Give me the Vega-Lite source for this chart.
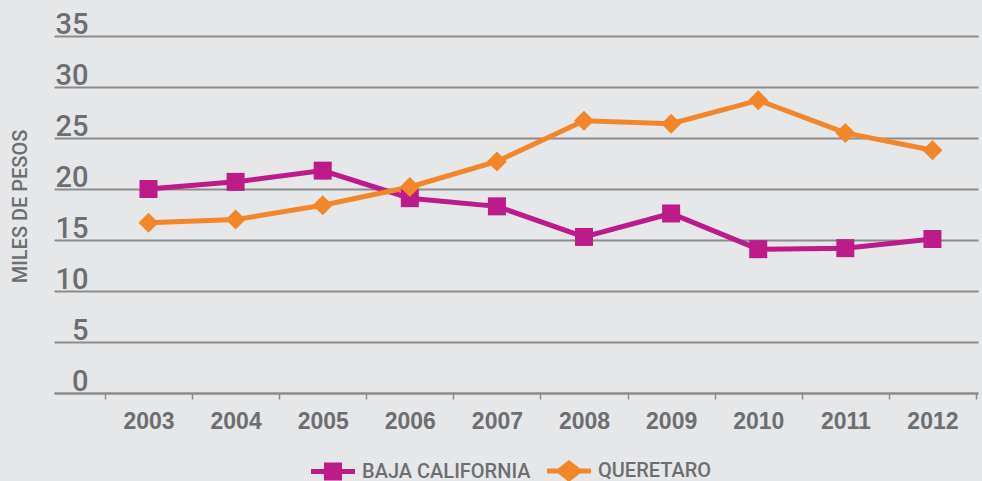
{
  "$schema": "https://vega.github.io/schema/vega-lite/v6.json",
  "width": 924,
  "height": 357,
  "autosize": {"type": "none"},
  "padding": {"left": 54, "top": 36, "right": 4, "bottom": 88},
  "background": "#e6e7e8",
  "config": {
    "view": {"stroke": null},
    "font": "Liberation Sans",
    "axis": {"labelColor": "#6d6e71", "titleColor": "#6d6e71"}
  },
  "data": {
    "values": [
      {"year": "2003", "series": "BAJA CALIFORNIA", "value": 20.0},
      {"year": "2004", "series": "BAJA CALIFORNIA", "value": 20.7},
      {"year": "2005", "series": "BAJA CALIFORNIA", "value": 21.8},
      {"year": "2006", "series": "BAJA CALIFORNIA", "value": 19.1},
      {"year": "2007", "series": "BAJA CALIFORNIA", "value": 18.3},
      {"year": "2008", "series": "BAJA CALIFORNIA", "value": 15.3},
      {"year": "2009", "series": "BAJA CALIFORNIA", "value": 17.6},
      {"year": "2010", "series": "BAJA CALIFORNIA", "value": 14.1},
      {"year": "2011", "series": "BAJA CALIFORNIA", "value": 14.2},
      {"year": "2012", "series": "BAJA CALIFORNIA", "value": 15.1},
      {"year": "2003", "series": "QUERETARO", "value": 16.7},
      {"year": "2004", "series": "QUERETARO", "value": 17.0},
      {"year": "2005", "series": "QUERETARO", "value": 18.4},
      {"year": "2006", "series": "QUERETARO", "value": 20.2},
      {"year": "2007", "series": "QUERETARO", "value": 22.7},
      {"year": "2008", "series": "QUERETARO", "value": 26.7},
      {"year": "2009", "series": "QUERETARO", "value": 26.4},
      {"year": "2010", "series": "QUERETARO", "value": 28.7},
      {"year": "2011", "series": "QUERETARO", "value": 25.5},
      {"year": "2012", "series": "QUERETARO", "value": 23.8}
    ]
  },
  "encoding": {
    "x": {
      "field": "year",
      "type": "ordinal",
      "scale": {"type": "band", "paddingInner": 0, "paddingOuter": 0.304, "align": 0.962},
      "axis": {
        "title": null,
        "labelAngle": 0,
        "tickBand": "extent",
        "domain": true,
        "domainColor": "#8c8c8c",
        "domainWidth": 2,
        "ticks": true,
        "tickColor": "#8c8c8c",
        "tickSize": 6,
        "tickWidth": 1.5,
        "labelFont": "Liberation Sans",
        "labelFontSize": 23,
        "labelFontWeight": "bold",
        "labelPadding": 11,
        "grid": false
      }
    },
    "y": {
      "field": "value",
      "type": "quantitative",
      "scale": {"domain": [0, 35], "nice": false, "zero": true},
      "axis": {
        "title": "MILES DE PESOS",
        "titleFont": "Roboto",
        "titleFontSize": 20,
        "titleFontWeight": 500,
        "titleX": -34,
        "titleY": 170,
        "titleAlign": "center",
        "titleBaseline": "middle",
        "titleAngle": -90,
        "values": [0, 5, 10, 15, 20, 25, 30, 35],
        "domain": false,
        "ticks": false,
        "grid": true,
        "gridColor": "#8c8c8c",
        "gridWidth": 2,
        "labelAlign": "right",
        "labelBaseline": "alphabetic",
        "labelPadding": -34,
        "labelOffset": -3,
        "labelFont": "Roboto",
        "labelFontWeight": 500,
        "labelFontSize": 29,
        "labelBound": false,
        "labelOverlap": false,
        "labelFlush": false
      }
    },
    "color": {
      "field": "series",
      "type": "nominal",
      "scale": {"domain": ["BAJA CALIFORNIA", "QUERETARO"], "range": ["#bd1a8a", "#f4862a"]},
      "legend": {
        "title": null,
        "orient": "none",
        "legendX": 257,
        "legendY": 413,
        "direction": "horizontal",
        "padding": 0,
        "symbolSize": 1936,
        "labelOffset": 7,
        "columnPadding": 16,
        "labelFont": "Roboto",
        "labelFontWeight": 500,
        "labelFontSize": 20,
        "labelColor": "#6d6e71",
        "labelLimit": 400,
        "encode": {
          "symbols": {
            "update": {
              "shape": {"signal": "datum.value === 'BAJA CALIFORNIA' ? 'M-1,-0.115L-0.41,-0.115L-0.41,-0.41L0.41,-0.41L0.41,-0.115L1,-0.115L1,0.115L0.41,0.115L0.41,0.41L-0.41,0.41L-0.41,0.115L-1,0.115Z' : 'M-1,-0.115L-0.5,-0.115L0,-0.5L0.5,-0.115L1,-0.115L1,0.115L0.5,0.115L0,0.5L-0.5,0.115L-1,0.115Z'"},
              "fill": {"signal": "datum.value === 'BAJA CALIFORNIA' ? '#bd1a8a' : '#f4862a'"},
              "fillOpacity": {"value": 1},
              "strokeWidth": {"value": 0},
              "size": {"value": 1936}
            }
          }
        }
      }
    }
  },
  "layer": [
    {
      "mark": {"type": "line", "strokeWidth": 5}
    },
    {
      "transform": [{"filter": "datum.series === 'BAJA CALIFORNIA'"}],
      "mark": {"type": "point", "filled": true, "opacity": 1, "shape": "square", "size": 324}
    },
    {
      "transform": [{"filter": "datum.series === 'QUERETARO'"}],
      "mark": {"type": "point", "filled": true, "opacity": 1, "shape": "diamond", "size": 400}
    }
  ]
}
